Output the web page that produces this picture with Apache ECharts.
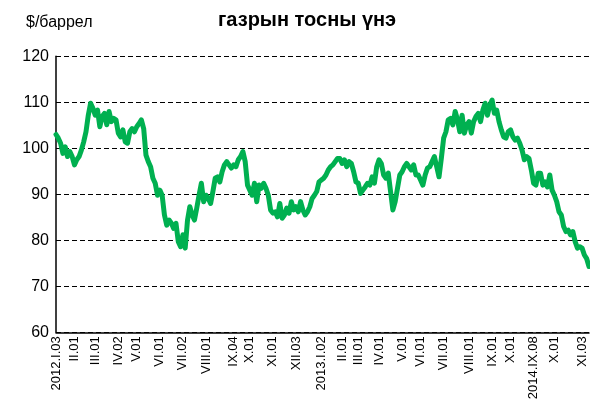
<!DOCTYPE html>
<html><head><meta charset="utf-8">
<script src="https://cdn.jsdelivr.net/npm/echarts@6/dist/echarts.min.js"></script>
<style>html,body{margin:0;padding:0;background:#fff}#c{width:590px;height:405px}</style>
</head><body><div id="c"></div>
<script>
const titleText = 'газрын тосны үнэ';
const unitText = '$/баррел';
const tickLabels = ['2012.I.03','II.01','III.01','IV.02','V.01','VI.01','VII.02','VIII.01','IX.04','X.01','XI.01','XII.03','2013.I.02','II.01','III.01','IV.01','V.01','VI.01','VII.01','VIII.01','IX.01','X.01','2014.IX.08','X.01','XI.03'];
const tickIndex = [0,8,17,27,35,45,55,65,77,84,94,104,115,124,131,140,150,158,168,179,189,197,207,216,228];
const yTicks = [60,70,80,90,100,110,120];
const prices = [
103.0,102.2,101.1,98.9,100.3,98.2,99.3,98.2,96.4,97.5,98.2,99.6,101.4,103.6,107.2,109.8,108.7,107.2,108.3,104.7,106.9,107.6,105.1,108.0,105.8,106.5,106.2,103.3,102.5,104.0,101.4,101.1,103.6,104.3,103.6,104.7,105.4,106.2,
104.3,98.5,97.1,96.0,93.5,92.4,89.8,90.9,89.8,85.5,83.3,84.4,83.7,82.6,83.7,79.7,78.6,81.2,78.3,84.4,87.3,85.5,84.4,87.0,89.8,92.4,88.4,89.8,89.1,88.0,90.6,93.5,93.8,92.7,94.9,96.4,97.1,96.4,95.7,96.4,
96.0,97.5,98.2,99.3,97.1,92.0,90.9,89.8,92.4,88.4,92.0,91.3,92.4,91.3,89.8,86.6,85.9,86.2,85.1,88.0,84.8,85.5,87.0,85.9,88.4,86.6,87.3,86.2,88.4,86.6,85.5,86.2,87.3,89.1,89.8,90.6,92.7,93.1,93.5,
94.2,95.3,96.0,96.4,97.1,97.8,97.8,96.7,97.5,96.0,97.1,96.7,94.9,92.7,92.4,90.2,90.9,91.6,92.4,92.0,93.8,92.4,96.0,97.5,96.7,94.2,93.5,94.6,90.6,86.6,88.4,91.3,94.2,94.9,96.0,96.7,96.0,
95.3,96.4,94.2,94.2,93.1,92.0,94.2,95.7,96.0,97.1,98.2,96.0,93.8,97.8,102.2,103.6,106.2,106.5,105.1,108.0,106.2,103.6,107.2,103.3,105.1,105.8,103.3,105.8,106.9,107.6,105.8,108.3,109.8,107.2,109.4,110.5,107.6,108.3,
105.8,104.0,102.5,102.2,103.6,104.0,102.5,101.8,102.2,101.1,99.6,97.5,98.2,97.8,95.3,92.4,92.0,94.6,94.6,92.0,92.7,91.6,94.2,90.9,89.8,88.4,86.2,85.5,83.0,81.9,82.2,81.2,81.9,79.7,78.3,78.6,78.3,76.8,76.0,74.3
];
const categories = prices.map(() => '');
tickIndex.forEach((idx, k) => { categories[idx] = tickLabels[k]; });

const chart = echarts.init(document.getElementById('c'));
chart.setOption({
  animation: false,
  backgroundColor: '#fff',
  textStyle: { fontFamily: 'Liberation Sans, Arial, sans-serif' },
  title: [
    { text: titleText, left: 213, top: 5, textStyle: { fontSize: 20, fontWeight: 'bold', color: '#000', fontFamily: 'Liberation Sans' } },
    { text: unitText, left: 21, top: 10, textStyle: { fontSize: 16, fontWeight: 'normal', color: '#000', fontFamily: 'Liberation Sans' } }
  ],
  grid: { left: 56, right: 1, top: 56.3, bottom: 72.7, containLabel: false },
  xAxis: {
    type: 'category',
    data: categories,
    boundaryGap: false,
    axisLine: { lineStyle: { color: '#000', width: 1.5 } },
    axisTick: { show: false },
    axisLabel: { interval: 0, rotate: 90, margin: 4, fontSize: 13, color: '#000', fontFamily: 'Liberation Sans' },
    splitLine: { show: false }
  },
  yAxis: {
    type: 'value',
    min: yTicks[0], max: yTicks[yTicks.length - 1], interval: 10,
    axisLine: { show: true, lineStyle: { color: '#000', width: 1.5 } },
    axisTick: { show: false },
    axisLabel: { fontSize: 16, color: '#000', margin: 7, fontFamily: 'Liberation Sans' },
    splitLine: { show: true, lineStyle: { color: '#000', width: 1, type: [5, 3] } }
  },
  series: [{
    type: 'line',
    data: prices,
    symbol: 'none',
    smooth: false,
    lineStyle: { color: '#00B050', width: 5, join: 'round', cap: 'round' }
  }]
});
</script></body></html>
